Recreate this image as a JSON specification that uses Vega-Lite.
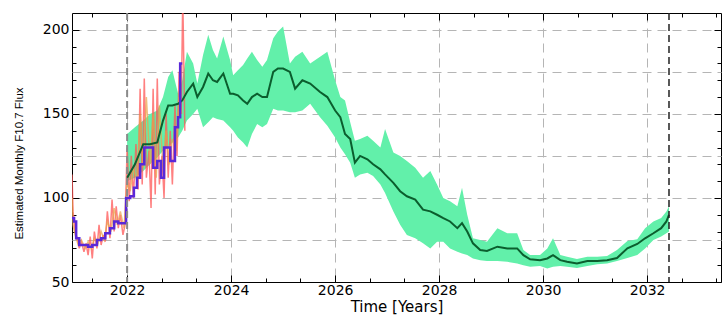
{
  "$schema": "https://vega.github.io/schema/vega-lite/v6.json",
  "width": 649,
  "height": 269,
  "autosize": "none",
  "padding": {"left": 72, "top": 13, "right": 1, "bottom": 38},
  "background": "white",
  "config": {"view": {"stroke": "black", "strokeWidth": 1}, "font": "DejaVu Sans"},
  "resolve": {"axis": {"x": "independent", "y": "independent"}},
  "datasets": {
    "band": [
      {"t": 2022.00, "lo": 110, "med": 112, "hi": 138},
      {"t": 2022.15, "lo": 112, "med": 120, "hi": 142},
      {"t": 2022.31, "lo": 116, "med": 132, "hi": 146},
      {"t": 2022.44, "lo": 120, "med": 132, "hi": 150},
      {"t": 2022.58, "lo": 124, "med": 133, "hi": 152},
      {"t": 2022.69, "lo": 128, "med": 146, "hi": 160},
      {"t": 2022.79, "lo": 130, "med": 155, "hi": 172},
      {"t": 2022.87, "lo": 133, "med": 155, "hi": 176},
      {"t": 2022.98, "lo": 136, "med": 156, "hi": 162},
      {"t": 2023.06, "lo": 140, "med": 158, "hi": 170},
      {"t": 2023.15, "lo": 146, "med": 163, "hi": 187},
      {"t": 2023.27, "lo": 150, "med": 168, "hi": 180},
      {"t": 2023.35, "lo": 153, "med": 160, "hi": 168},
      {"t": 2023.46, "lo": 142, "med": 166, "hi": 185},
      {"t": 2023.56, "lo": 145, "med": 174, "hi": 197},
      {"t": 2023.65, "lo": 148, "med": 170, "hi": 188},
      {"t": 2023.73, "lo": 147, "med": 169, "hi": 183},
      {"t": 2023.85, "lo": 146, "med": 174, "hi": 196},
      {"t": 2023.98, "lo": 142, "med": 162, "hi": 182},
      {"t": 2024.04, "lo": 140, "med": 162, "hi": 173},
      {"t": 2024.13, "lo": 136, "med": 161, "hi": 176},
      {"t": 2024.23, "lo": 133, "med": 158, "hi": 179},
      {"t": 2024.31, "lo": 130, "med": 156, "hi": 183},
      {"t": 2024.40, "lo": 138, "med": 160, "hi": 187},
      {"t": 2024.50, "lo": 144, "med": 162, "hi": 182},
      {"t": 2024.60, "lo": 142, "med": 160, "hi": 178},
      {"t": 2024.69, "lo": 144, "med": 160, "hi": 182},
      {"t": 2024.81, "lo": 153, "med": 175, "hi": 195},
      {"t": 2024.90, "lo": 152, "med": 177, "hi": 199},
      {"t": 2025.00, "lo": 152, "med": 177, "hi": 202},
      {"t": 2025.13, "lo": 151, "med": 175, "hi": 180},
      {"t": 2025.23, "lo": 151, "med": 165, "hi": 184},
      {"t": 2025.37, "lo": 152, "med": 170, "hi": 187},
      {"t": 2025.52, "lo": 156, "med": 168, "hi": 180},
      {"t": 2025.71, "lo": 148, "med": 163, "hi": 184},
      {"t": 2025.85, "lo": 143, "med": 160, "hi": 187},
      {"t": 2026.00, "lo": 136, "med": 152, "hi": 170},
      {"t": 2026.10, "lo": 130, "med": 148, "hi": 160},
      {"t": 2026.19, "lo": 126, "med": 138, "hi": 158},
      {"t": 2026.29, "lo": 121, "med": 135, "hi": 145},
      {"t": 2026.38, "lo": 112, "med": 121, "hi": 134},
      {"t": 2026.48, "lo": 114, "med": 125, "hi": 135},
      {"t": 2026.62, "lo": 115, "med": 123, "hi": 137},
      {"t": 2026.73, "lo": 113, "med": 120, "hi": 134},
      {"t": 2026.87, "lo": 108, "med": 117, "hi": 130},
      {"t": 2026.96, "lo": 103, "med": 114, "hi": 141},
      {"t": 2027.12, "lo": 92, "med": 109, "hi": 127},
      {"t": 2027.25, "lo": 84, "med": 104, "hi": 125},
      {"t": 2027.38, "lo": 78, "med": 101, "hi": 122},
      {"t": 2027.54, "lo": 76, "med": 99, "hi": 118},
      {"t": 2027.69, "lo": 73, "med": 93, "hi": 112},
      {"t": 2027.83, "lo": 70, "med": 92, "hi": 116},
      {"t": 2027.96, "lo": 74, "med": 90, "hi": 108},
      {"t": 2028.08, "lo": 74, "med": 88, "hi": 100},
      {"t": 2028.21, "lo": 70, "med": 86, "hi": 98},
      {"t": 2028.35, "lo": 68, "med": 82, "hi": 95},
      {"t": 2028.44, "lo": 67, "med": 85, "hi": 106},
      {"t": 2028.54, "lo": 66, "med": 80, "hi": 90},
      {"t": 2028.65, "lo": 64, "med": 73, "hi": 76},
      {"t": 2028.79, "lo": 63, "med": 69, "hi": 75},
      {"t": 2028.92, "lo": 62.5, "med": 68.5, "hi": 74},
      {"t": 2029.12, "lo": 62.5, "med": 71, "hi": 82},
      {"t": 2029.31, "lo": 62, "med": 70, "hi": 79},
      {"t": 2029.50, "lo": 61, "med": 70, "hi": 79},
      {"t": 2029.62, "lo": 60, "med": 66, "hi": 69},
      {"t": 2029.75, "lo": 59, "med": 63.5, "hi": 66},
      {"t": 2029.94, "lo": 59.5, "med": 63, "hi": 66},
      {"t": 2030.08, "lo": 58, "med": 64, "hi": 70},
      {"t": 2030.19, "lo": 59, "med": 66, "hi": 76},
      {"t": 2030.33, "lo": 59.5, "med": 63, "hi": 66},
      {"t": 2030.46, "lo": 59, "med": 62, "hi": 65},
      {"t": 2030.65, "lo": 58.3, "med": 61, "hi": 63.7},
      {"t": 2030.85, "lo": 59.5, "med": 62.5, "hi": 65},
      {"t": 2031.04, "lo": 60.5, "med": 62.5, "hi": 65},
      {"t": 2031.23, "lo": 61, "med": 63, "hi": 65.5},
      {"t": 2031.42, "lo": 62.5, "med": 64.3, "hi": 69},
      {"t": 2031.62, "lo": 64.3, "med": 70, "hi": 74.4},
      {"t": 2031.81, "lo": 66, "med": 72.6, "hi": 75.5},
      {"t": 2031.96, "lo": 70, "med": 76, "hi": 82},
      {"t": 2032.12, "lo": 75, "med": 79, "hi": 86},
      {"t": 2032.27, "lo": 77, "med": 82, "hi": 88},
      {"t": 2032.37, "lo": 79, "med": 86, "hi": 92},
      {"t": 2032.42, "lo": 80, "med": 90, "hi": 95}
    ],
    "red": [
      {"t": 2020.94, "v": 114}, {"t": 2020.96, "v": 92}, {"t": 2020.98, "v": 86},
      {"t": 2021.00, "v": 80}, {"t": 2021.04, "v": 76}, {"t": 2021.08, "v": 70},
      {"t": 2021.12, "v": 74}, {"t": 2021.17, "v": 68}, {"t": 2021.21, "v": 73},
      {"t": 2021.25, "v": 66}, {"t": 2021.29, "v": 77}, {"t": 2021.33, "v": 64},
      {"t": 2021.37, "v": 80}, {"t": 2021.42, "v": 70}, {"t": 2021.46, "v": 84},
      {"t": 2021.50, "v": 72}, {"t": 2021.54, "v": 78}, {"t": 2021.58, "v": 74},
      {"t": 2021.62, "v": 92}, {"t": 2021.67, "v": 76}, {"t": 2021.71, "v": 99},
      {"t": 2021.75, "v": 80}, {"t": 2021.79, "v": 95}, {"t": 2021.83, "v": 82},
      {"t": 2021.87, "v": 90}, {"t": 2021.92, "v": 78}, {"t": 2021.96, "v": 84},
      {"t": 2022.00, "v": 130}, {"t": 2022.04, "v": 98}, {"t": 2022.08, "v": 125},
      {"t": 2022.12, "v": 100}, {"t": 2022.17, "v": 132}, {"t": 2022.21, "v": 105},
      {"t": 2022.25, "v": 165}, {"t": 2022.29, "v": 108}, {"t": 2022.33, "v": 171},
      {"t": 2022.37, "v": 112}, {"t": 2022.42, "v": 128}, {"t": 2022.46, "v": 94},
      {"t": 2022.50, "v": 165}, {"t": 2022.54, "v": 102}, {"t": 2022.58, "v": 171},
      {"t": 2022.62, "v": 108}, {"t": 2022.67, "v": 125}, {"t": 2022.71, "v": 100},
      {"t": 2022.75, "v": 150}, {"t": 2022.79, "v": 112}, {"t": 2022.83, "v": 140},
      {"t": 2022.87, "v": 108}, {"t": 2022.92, "v": 155}, {"t": 2022.96, "v": 125},
      {"t": 2023.00, "v": 175}, {"t": 2023.04, "v": 150}, {"t": 2023.07, "v": 220},
      {"t": 2023.11, "v": 140}
    ],
    "orange": [
      {"t": 2020.94, "v": 100}, {"t": 2020.96, "v": 84}, {"t": 2021.00, "v": 78},
      {"t": 2021.06, "v": 72}, {"t": 2021.12, "v": 75}, {"t": 2021.19, "v": 70},
      {"t": 2021.25, "v": 74}, {"t": 2021.31, "v": 70}, {"t": 2021.37, "v": 76},
      {"t": 2021.44, "v": 73}, {"t": 2021.50, "v": 80}, {"t": 2021.56, "v": 75},
      {"t": 2021.62, "v": 86}, {"t": 2021.69, "v": 80}, {"t": 2021.75, "v": 94},
      {"t": 2021.81, "v": 84}, {"t": 2021.87, "v": 92}, {"t": 2021.94, "v": 82},
      {"t": 2022.00, "v": 110}, {"t": 2022.06, "v": 104}, {"t": 2022.12, "v": 118},
      {"t": 2022.19, "v": 110}, {"t": 2022.25, "v": 150}, {"t": 2022.31, "v": 118},
      {"t": 2022.37, "v": 160}, {"t": 2022.44, "v": 120}, {"t": 2022.50, "v": 150},
      {"t": 2022.56, "v": 112}, {"t": 2022.62, "v": 155}, {"t": 2022.69, "v": 118},
      {"t": 2022.75, "v": 140}, {"t": 2022.81, "v": 120}, {"t": 2022.87, "v": 135},
      {"t": 2022.94, "v": 128}, {"t": 2023.00, "v": 160}, {"t": 2023.05, "v": 150}
    ],
    "purple": [
      {"t": 2020.94, "v": 88}, {"t": 2020.98, "v": 86}, {"t": 2021.02, "v": 76},
      {"t": 2021.08, "v": 72}, {"t": 2021.17, "v": 72}, {"t": 2021.25, "v": 71},
      {"t": 2021.33, "v": 72}, {"t": 2021.42, "v": 75}, {"t": 2021.50, "v": 76},
      {"t": 2021.58, "v": 79}, {"t": 2021.67, "v": 82}, {"t": 2021.75, "v": 86},
      {"t": 2021.83, "v": 85}, {"t": 2021.98, "v": 100}, {"t": 2022.06, "v": 101},
      {"t": 2022.13, "v": 106}, {"t": 2022.19, "v": 112}, {"t": 2022.25, "v": 120},
      {"t": 2022.33, "v": 130}, {"t": 2022.50, "v": 118}, {"t": 2022.58, "v": 122},
      {"t": 2022.65, "v": 112}, {"t": 2022.71, "v": 130}, {"t": 2022.83, "v": 122},
      {"t": 2022.92, "v": 142}, {"t": 2022.98, "v": 148}, {"t": 2023.02, "v": 180},
      {"t": 2023.06, "v": 180}
    ],
    "rule2022": [{"t": 2022.0}],
    "ruleEnd": [{"t": 2032.42}]
  },
  "layer": [
    {
      "data": {"name": "band"},
      "mark": {"type": "area", "color": "#62f0aa", "opacity": 1, "clip": true},
      "encoding": {
        "x": {"field": "t", "type": "quantitative", "scale": {"domain": [2020.94, 2033.42], "nice": false, "zero": false},
          "axis": {"orient": "bottom", "values": [2022, 2024, 2026, 2028, 2030, 2032], "format": "d",
            "labelFontSize": 14, "labelColor": "black", "labelPadding": 8, "labelFlush": false,
            "ticks": true, "tickSize": -7, "tickColor": "black", "domain": false,
            "grid": true, "gridColor": "#b5b5b5", "gridDash": [9, 6], "gridWidth": 1,
            "title": "Time [Years]", "titleFontSize": 15, "titleFontWeight": "normal", "titleColor": "black", "titlePadding": 2}},
        "y": {"field": "lo", "type": "quantitative", "scale": {"domain": [50, 210], "nice": false, "zero": false},
          "axis": {"orient": "left", "values": [50, 100, 150, 200],
            "labelFontSize": 14, "labelColor": "black", "labelPadding": 10, "labelFlush": false,
            "ticks": true, "tickSize": -7, "tickColor": "black", "domain": false, "grid": false,
            "title": "Estimated Monthly F10.7 Flux", "titleFont": "Liberation Sans", "titleFontSize": 11.5,
            "titleFontWeight": "normal", "titleColor": "black", "titleX": -48, "titleY": 150}},
        "y2": {"field": "hi"}
      }
    },
    {
      "data": {"name": "red"},
      "mark": {"type": "line", "color": "#ff5555", "strokeWidth": 1.5, "opacity": 0.75, "clip": true},
      "encoding": {
        "x": {"field": "t", "type": "quantitative", "scale": {"domain": [2020.94, 2033.42], "nice": false, "zero": false},
          "axis": {"orient": "bottom", "values": [2021.333, 2022.667, 2023.333, 2024.667, 2025.333, 2026.667, 2027.333, 2028.667, 2029.333, 2030.667, 2031.333, 2032.667, 2033.333],
            "labels": false, "ticks": true, "tickSize": -4, "tickColor": "black", "domain": false, "grid": false, "title": null}},
        "y": {"field": "v", "type": "quantitative", "scale": {"domain": [50, 210], "nice": false, "zero": false},
          "axis": {"orient": "left", "values": [60, 70, 80, 90, 110, 120, 130, 140, 160, 170, 180, 190],
            "labels": false, "ticks": true, "tickSize": -4, "tickColor": "black", "domain": false, "grid": false, "title": null}}
      }
    },
    {
      "data": {"name": "orange"},
      "mark": {"type": "line", "color": "#e9a24a", "strokeWidth": 1.5, "opacity": 0.7, "clip": true},
      "encoding": {
        "x": {"field": "t", "type": "quantitative", "scale": {"domain": [2020.94, 2033.42], "nice": false, "zero": false},
          "axis": {"orient": "top", "values": [2022, 2024, 2026, 2028, 2030, 2032],
            "labels": false, "ticks": true, "tickSize": -7, "tickColor": "black", "domain": false, "grid": false, "title": null}},
        "y": {"field": "v", "type": "quantitative", "scale": {"domain": [50, 210], "nice": false, "zero": false},
          "axis": {"orient": "right", "values": [50, 100, 150, 200],
            "labels": false, "ticks": true, "tickSize": -7, "tickColor": "black", "domain": false, "grid": false, "title": null}}
      }
    },
    {
      "data": {"name": "band"},
      "mark": {"type": "line", "color": "#0b5e2e", "strokeWidth": 2, "clip": true},
      "encoding": {
        "x": {"field": "t", "type": "quantitative", "scale": {"domain": [2020.94, 2033.42], "nice": false, "zero": false},
          "axis": {"orient": "top", "values": [2021.333, 2022.667, 2023.333, 2024.667, 2025.333, 2026.667, 2027.333, 2028.667, 2029.333, 2030.667, 2031.333, 2032.667, 2033.333],
            "labels": false, "ticks": true, "tickSize": -4, "tickColor": "black", "domain": false, "grid": false, "title": null}},
        "y": {"field": "med", "type": "quantitative", "scale": {"domain": [50, 210], "nice": false, "zero": false},
          "axis": {"orient": "right", "values": [60, 70, 80, 90, 110, 120, 130, 140, 160, 170, 180, 190],
            "labels": false, "ticks": true, "tickSize": -4, "tickColor": "black", "domain": false, "grid": false, "title": null}}
      }
    },
    {
      "data": {"name": "purple"},
      "mark": {"type": "line", "color": "#5a28d8", "strokeWidth": 2.5, "interpolate": "step-after", "clip": true},
      "encoding": {
        "x": {"field": "t", "type": "quantitative", "scale": {"domain": [2020.94, 2033.42], "nice": false, "zero": false}, "axis": null},
        "y": {"field": "v", "type": "quantitative", "scale": {"domain": [50, 210], "nice": false, "zero": false},
          "axis": {"orient": "left", "values": [75, 100, 125, 150, 175, 200],
            "labels": false, "ticks": false, "domain": false, "grid": true, "gridColor": "#b5b5b5", "gridDash": [9, 6], "gridWidth": 1, "title": null}}
      }
    },
    {
      "data": {"name": "rule2022"},
      "mark": {"type": "rule", "color": "#8a8a8a", "strokeWidth": 2, "strokeDash": [7, 4]},
      "encoding": {
        "x": {"field": "t", "type": "quantitative", "scale": {"domain": [2020.94, 2033.42], "nice": false, "zero": false}, "axis": null}
      }
    },
    {
      "data": {"name": "ruleEnd"},
      "mark": {"type": "rule", "color": "#222222", "strokeWidth": 1.5, "strokeDash": [7, 4]},
      "encoding": {
        "x": {"field": "t", "type": "quantitative", "scale": {"domain": [2020.94, 2033.42], "nice": false, "zero": false}, "axis": null}
      }
    }
  ]
}
